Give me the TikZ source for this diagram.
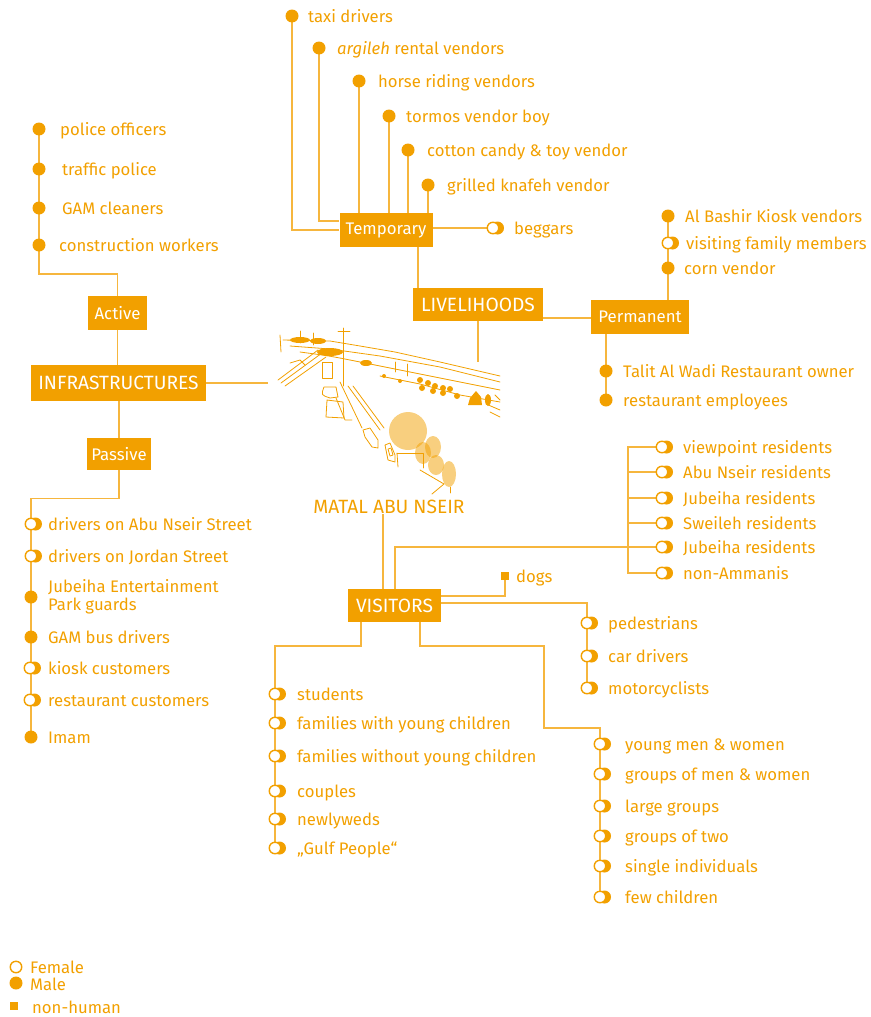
\documentclass[tikz,border=0pt]{standalone}
\usepackage{fontspec}
\setmainfont{Fira Sans}
\usetikzlibrary{backgrounds,calc}
\definecolor{ora}{RGB}{242,160,0}
\definecolor{lin}{RGB}{246,182,62}

\tikzset{
  txt/.style={anchor=base west, text=ora, font=\fontsize{16.7}{18}\selectfont, inner sep=0pt},
  hub/.style={fill=ora, text=white, font=\fontsize{16.8}{18}\selectfont, inner sep=0pt, minimum height=34pt},
  caps/.style={font=\fontsize{19.2}{20}\selectfont},
  link/.style={draw=lin, line width=1.4pt},
  male/.style={circle, fill=ora, inner sep=0pt, minimum size=13pt},
  female/.style={circle, draw=ora, fill=white, line width=1.4pt, inner sep=0pt, minimum size=11.5pt},
  thing/.style={fill=ora, inner sep=0pt, minimum size=8pt},
  sk/.style={draw=ora, line width=0.8pt, line join=round, line cap=round},
}
% open circle in front of a filled one: female and male
\newcommand\mixmark[3]{\fill[ora] (#2+4.5,#3) circle (6.5pt); \node[female] (#1) at (#2,#3) {};}

\begin{document}
\begin{tikzpicture}[x=1pt,y=-1pt]
\useasboundingbox (0,0) rectangle (870,1017);

% ---------- hubs ----------
\node[hub, minimum width=93pt] (tmp) at (386,230) {Temporary};
\node[hub, caps, minimum width=130pt, minimum height=33pt] (liv) at (478,304.5) {LIVELIHOODS};
\node[hub, minimum width=98pt] (perm) at (640,317) {Permanent};
\node[hub, caps, minimum width=175pt, minimum height=36pt] (infra) at (118.5,383) {INFRASTRUCTURES};
\node[hub, minimum width=59pt] (act) at (117.5,313) {Active};
\node[hub, minimum width=64pt, minimum height=32pt] (pas) at (119,454) {Passive};
\node[hub, caps, minimum width=93pt, minimum height=33pt] (vis) at (394.5,605.5) {VISITORS};
\node[text=ora, caps, inner sep=0pt] (matal) at (389,507) {MATAL ABU NSEIR};

% ---------- temporary livelihoods ----------
\node[male] (taxi) at (292,16) {};   \node[txt] (taxiT) at (308,22) {taxi drivers};
\node[male] (arg) at (319,48) {};    \node[txt] (argT) at (337,54) {\textit{argileh} rental vendors};
\node[male] (horse) at (359,81) {};  \node[txt] (horseT) at (378,87) {horse riding vendors};
\node[male] (torm) at (389,116) {};  \node[txt] (tormT) at (406,122) {tormos vendor boy};
\node[male] (cott) at (408,150) {};  \node[txt] (cottT) at (427,156) {cotton candy \& toy vendor};
\node[male] (knaf) at (428,185) {};  \node[txt] (knafT) at (447,191) {grilled knafeh vendor};
\mixmark{beg}{493}{228}              \node[txt] (begT) at (514,234) {beggars};

% ---------- permanent livelihoods ----------
\node[male] (bash) at (668,216) {};  \node[txt] (bashT) at (685,222) {Al Bashir Kiosk vendors};
\mixmark{fam}{668}{243}              \node[txt] (famT) at (686,249) {visiting family members};
\node[male] (corn) at (668,268) {};  \node[txt] (cornT) at (684,274) {corn vendor};
\node[male] (tal) at (606,371) {};   \node[txt] (talT) at (623,377) {Talit Al Wadi Restaurant owner};
\node[male] (emp) at (606,400) {};   \node[txt] (empT) at (623,406) {restaurant employees};

% ---------- active infrastructures ----------
\node[male] (pol) at (39,129) {};    \node[txt] (polT) at (60,135) {police officers};
\node[male] (traf) at (39,169) {};   \node[txt] (trafT) at (62,175) {traffic police};
\node[male] (gam) at (39,208) {};    \node[txt] (gamT) at (62,214) {GAM cleaners};
\node[male] (cons) at (39,245) {};   \node[txt] (consT) at (59,251) {construction workers};

% ---------- passive infrastructures ----------
\mixmark{dab}{31}{524}               \node[txt] (dabT) at (48,530) {drivers on Abu Nseir Street};
\mixmark{djo}{31}{556}               \node[txt] (djoT) at (48,562) {drivers on Jordan Street};
\node[male] (jub) at (31,597) {};
\node[text=ora, font=\fontsize{16.7}{18}\selectfont, inner sep=0pt, anchor=west, align=left] (jubT) at (48,596.5) {Jubeiha Entertainment\\Park guards};
\node[male] (bus) at (31,637) {};    \node[txt] (busT) at (48,643) {GAM bus drivers};
\mixmark{kio}{30}{668}               \node[txt] (kioT) at (48,674) {kiosk customers};
\mixmark{rsc}{30}{700}               \node[txt] (rscT) at (48,706) {restaurant customers};
\node[male] (imam) at (31,737) {};   \node[txt] (imamT) at (48,743) {Imam};

% ---------- residents ----------
\mixmark{r1}{662}{447}               \node[txt] (r1T) at (683,453) {viewpoint residents};
\mixmark{r2}{662}{472}               \node[txt] (r2T) at (683,478) {Abu Nseir residents};
\mixmark{r3}{662}{498}               \node[txt] (r3T) at (683,504) {Jubeiha residents};
\mixmark{r4}{662}{523}               \node[txt] (r4T) at (683,529) {Sweileh residents};
\mixmark{r5}{662}{547}               \node[txt] (r5T) at (683,553) {Jubeiha residents};
\mixmark{r6}{662}{573}               \node[txt] (r6T) at (683,579) {non-Ammanis};

\node[thing] (dog) at (505,576) {};  \node[txt] (dogT) at (516,582) {dogs};

\mixmark{ped}{587}{623}              \node[txt] (pedT) at (608,629) {pedestrians};
\mixmark{car}{587}{656}              \node[txt] (carT) at (608,662) {car drivers};
\mixmark{mot}{587}{688}              \node[txt] (motT) at (608,694) {motorcyclists};

\mixmark{stu}{275}{694}              \node[txt] (stuT) at (297,700) {students};
\mixmark{fw}{275}{723}               \node[txt] (fwT) at (297,729) {families with young children};
\mixmark{fo}{275}{756}               \node[txt] (foT) at (297,762) {families without young children};
\mixmark{cou}{275}{791}              \node[txt] (couT) at (297,797) {couples};
\mixmark{nw}{275}{819}               \node[txt] (nwT) at (297,825) {newlyweds};
\mixmark{gulf}{275}{848}             \node[txt] (gulfT) at (297,854) {„Gulf People“};

\mixmark{ym}{600}{744}               \node[txt] (ymT) at (625,750) {young men \& women};
\mixmark{gm}{600}{774}               \node[txt] (gmT) at (625,780) {groups of men \& women};
\mixmark{lg}{600}{806}               \node[txt] (lgT) at (625,812) {large groups};
\mixmark{g2}{600}{836}               \node[txt] (g2T) at (625,842) {groups of two};
\mixmark{si}{600}{866}               \node[txt] (siT) at (625,872) {single individuals};
\mixmark{fc}{600}{897}               \node[txt] (fcT) at (625,903) {few children};

% ---------- legend ----------
\node[female] (lf) at (16,967) {};   \node[txt] (lfT) at (30,973) {Female};
\node[male] (lm) at (16,983) {};     \node[txt] (lmT) at (30,990) {Male};
\node[thing] (lo) at (14,1006) {};   \node[txt] (loT) at (32,1013) {non-human};

% ---------- connectors ----------
\begin{scope}[on background layer]
  \draw[link] (taxi.center) |- (tmp.west);
  \draw[link] (arg.center) |- (tmp.west |- 0,221);
  \foreach \n in {horse,torm,cott,knaf} \draw[link] (\n.center) -- (\n |- tmp.north);
  \draw[link] (tmp.east |- beg) -- (beg.center);
  \draw[link] (tmp.south -| 418,0) -- (liv.north -| 418,0);
  \coordinate (livEnd) at (478,362);
  \draw[link] (liv.south) -- (livEnd);
  \draw[link] (liv.east |- 0,318) -- (perm.west |- 0,318);
  \draw[link] (perm.north -| bash) -- (bash.center);
  \draw[link] (perm.south -| tal) -- (emp.center);

  \coordinate (infEnd) at (268,383);
  \draw[link] (infra.east) -- (infEnd);
  \draw[link] (act.south) -- (act.south |- infra.north);
  \draw[link] (pas.north) -- (pas.north |- infra.south);
  \draw[link] (act.north) -- ++(0,-22) -| (pol.center);
  \draw[link] (pas.south) -- ++(0,28) -| (imam.center);

  \draw[link] (matal.south -| 383,0) -- (vis.north -| 383,0);
  \draw[link] (vis.north -| 395,0) |- (r5.center);
  \draw[link] (r1.center) -| (r6 -| 628,0) -- (r6.center);
  \foreach \n in {r2,r3,r4} \draw[link] (\n -| 628,0) -- (\n.center);
  \draw[link] (vis.east |- 0,596) -| (dog.center);
  \draw[link] (vis.east |- 0,603) -| (mot.center);
  \draw[link] (vis.south -| 361,0) -- (361,646) -| (gulf.center);
  \draw[link] (vis.south -| 420,0) -- (420,646) -| (544,728) -| (fc.center);
\end{scope}

% ---------- sketch of the site ----------
\begin{scope}[on background layer]
  \fill[ora, opacity=0.5] (408,431) circle (19pt);
  \fill[ora, opacity=0.5] (433,447) ellipse (8pt and 11pt);
  \fill[ora, opacity=0.5] (423,453) ellipse (8pt and 11pt);
  \fill[ora, opacity=0.5] (436,465) ellipse (8pt and 10pt);
  \fill[ora, opacity=0.5] (449,474) ellipse (7pt and 13pt);
\end{scope}
% road and wall
\draw[sk] (280,335) -- (281,352);
\draw[sk] (283,340) -- (330,341) -- (360,346) -- (395,352) -- (440,362) -- (500,376);
\draw[sk] (290,346) -- (330,349) -- (380,356) -- (440,367) -- (500,382);
\draw[sk] (300,352) .. controls (330,356) .. (360,362) -- (420,374) -- (500,390);
\draw[sk] (278,380) -- (318,350);
\draw[sk] (281,383) -- (322,353);
\draw[sk] (285,386) -- (326,357);
\draw[sk] (290,363) -- (300,360) -- (305,365);
\draw[sk] (343,328) -- (343,386);
\draw[sk] (338,331) -- (350,331);
\draw[sk] (340,382) -- (362,428);
\draw[sk] (348,386) -- (380,430);
\draw[sk] (353,386) -- (384,428);
\draw[sk] (336,398) -- (345,420) -- (352,420);
% buildings
\draw[sk] (322,362) rectangle (332,378);
\draw[sk] (324,387) .. controls (321,395) .. (330,398) -- (338,397) -- (336,387) -- cycle;
\draw[sk] (327,400) -- (326,417) -- (344,418) -- (343,402) -- cycle;
\draw[sk] (395,362) -- (395,372);
\draw[sk] (407,364) -- (407,376);
\draw[sk] (313,333) -- (313,345);
\draw[sk] (300,331) -- (300,343);
% vegetation
\fill[ora] (300,340) ellipse (10pt and 3pt);
\fill[ora] (318,341) ellipse (8pt and 3pt);
\fill[ora] (330,352) ellipse (13pt and 4pt);
\fill[ora] (366,363) ellipse (6pt and 3pt);
\fill[ora] (384,376) circle (2pt);
\fill[ora] (400,381) circle (2pt);
\foreach \p in {(420,380),(428,383),(435,386),(443,388),(450,389),(422,388),(433,391),(443,393),(457,396)}
  \fill[ora] \p circle (3pt);
\fill[ora] (468,405) -- (470,398) -- (476,391) -- (481,397) -- (482,405) -- cycle;
\fill[ora] (488,400) ellipse (3pt and 6pt);
\draw[sk] (380,376) -- (420,384) -- (460,395) -- (500,402);
\draw[sk] (486,404) -- (500,410);
\draw[sk] (490,412) -- (500,417);
\draw[sk] (495,395) -- (500,400);
% furniture below the road
\draw[sk] (363,430) -- (370,428) -- (378,440) -- (378,448) -- (372,447) -- (365,437) -- cycle;
\draw[sk] (385,445) -- (390,443) -- (395,455) -- (395,462) -- (388,460) -- cycle;
\draw[sk] (388,449) -- (391,448) -- (393,455) -- (390,456) -- cycle;
\draw[sk] (397,453) -- (423,453) -- (423,468);
\draw[sk] (397,453) -- (398,467);
\draw[sk] (420,470) -- (444,484) -- (432,494);
\draw[sk] (450,487) -- (450,493);
\end{tikzpicture}
\end{document}
